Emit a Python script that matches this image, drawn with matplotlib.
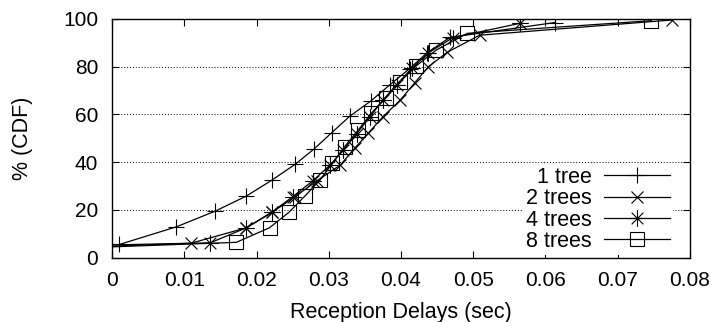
import matplotlib
matplotlib.use('Agg')
import matplotlib.pyplot as plt
from matplotlib.path import Path
from matplotlib.ticker import MultipleLocator, FuncFormatter

plt.rcParams['font.family'] = ['Liberation Sans', 'DejaVu Sans']

# data (delay in sec, % CDF)
tree1_x = [0.0010, 0.0089, 0.0143, 0.0186, 0.0221, 0.0254, 0.0280, 0.0304,
           0.0329, 0.0359, 0.0385, 0.0412, 0.0436, 0.0468, 0.0613]
tree1_y = [5.5, 12.9, 19.5, 25.8, 32.4, 39.2, 45.6, 52.3,
           59.2, 65.8, 72.5, 79.2, 85.8, 92.3, 98.5]

tree2_x = [0.0, 0.0109, 0.0186, 0.0222, 0.0253, 0.0284, 0.0316, 0.0336, 0.0355,
           0.0375, 0.0399, 0.0419, 0.0438, 0.0464, 0.0509, 0.0776]
tree2_y = [4.8, 6.0, 12.5, 19.0, 25.5, 32.2, 38.8, 45.8, 52.2,
           59.0, 66.0, 73.2, 80.0, 86.0, 93.2, 99.6]

tree4_x = [0.0, 0.0136, 0.0186, 0.0222, 0.0250, 0.0278, 0.0302, 0.0320, 0.0339,
           0.0357, 0.0375, 0.0394, 0.0415, 0.0438, 0.0472, 0.0565]
tree4_y = [5.3, 6.2, 12.5, 19.2, 25.5, 32.2, 38.8, 45.0, 52.0,
           59.0, 66.0, 72.5, 79.3, 85.8, 92.2, 98.2]

tree8_x = [0.0, 0.0172, 0.0218, 0.0245, 0.0267, 0.0288, 0.0305, 0.0322, 0.0341,
           0.0359, 0.0379, 0.0399, 0.0421, 0.0449, 0.0492, 0.0747]
tree8_y = [4.5, 6.4, 12.5, 19.0, 25.8, 32.5, 39.5, 46.5, 53.5,
           60.5, 67.0, 73.7, 80.3, 87.0, 94.0, 99.3]

labels = ['1 tree', '2 trees', '4 trees', '8 trees']

# gnuplot style asterisk: + and x together
ast = Path([(-1, 0), (1, 0), (0, -1), (0, 1),
            (-0.7, -0.7), (0.7, 0.7), (-0.7, 0.7), (0.7, -0.7)],
           [Path.MOVETO, Path.LINETO] * 4)

fs = 15.5

fig = plt.figure(figsize=(7.14, 3.22), dpi=100)
ax = fig.add_axes([0.157, 0.2, 0.809, 0.741])

kw = dict(color='black', lw=0.9, markeredgewidth=0.8, markerfacecolor='none')
ax.plot(tree1_x, tree1_y, marker='+', ms=12, label=labels[0], **kw)
ax.plot(tree2_x, tree2_y, marker='x', ms=9, markevery=list(range(1, len(tree2_x))),
        label=labels[1], **kw)
ax.plot(tree4_x, tree4_y, marker=ast, ms=12, markevery=list(range(1, len(tree4_x))),
        label=labels[2], **kw)
ax.plot(tree8_x, tree8_y, marker='s', ms=10, markevery=list(range(1, len(tree8_x))),
        label=labels[3], **kw)

ax.set_xlim(0, 0.08)
ax.set_ylim(0, 100)
ax.xaxis.set_major_locator(MultipleLocator(0.01))
ax.yaxis.set_major_locator(MultipleLocator(20))
ax.xaxis.set_major_formatter(FuncFormatter(lambda v, p: '%g' % round(v, 3)))
ax.tick_params(direction='in', top=True, right=True, length=5, width=0.8,
               labelsize=15, pad=10)
ax.tick_params(axis='y', pad=10)
ax.yaxis.grid(True, linestyle=(0, (1, 2)), color='black', lw=0.7)
ax.set_axisbelow(True)
for s in ax.spines.values():
    s.set_linewidth(1.0)

ax.set_xlabel('Reception Delays (sec)', fontsize=fs, labelpad=8)
ax.set_ylabel('% (CDF)', fontsize=fs, labelpad=22)

leg = ax.legend(loc='lower right', bbox_to_anchor=(0.99, -0.035), fontsize=fs,
                markerfirst=False, handlelength=3.05, handletextpad=0.6,
                labelspacing=0.02, borderpad=0.15, frameon=True, fancybox=False,
                edgecolor='none', facecolor='white', framealpha=1)
leg.set_zorder(2.2)  # keep the axes frame drawn over the key box

fig.savefig('out.png', dpi=100)
